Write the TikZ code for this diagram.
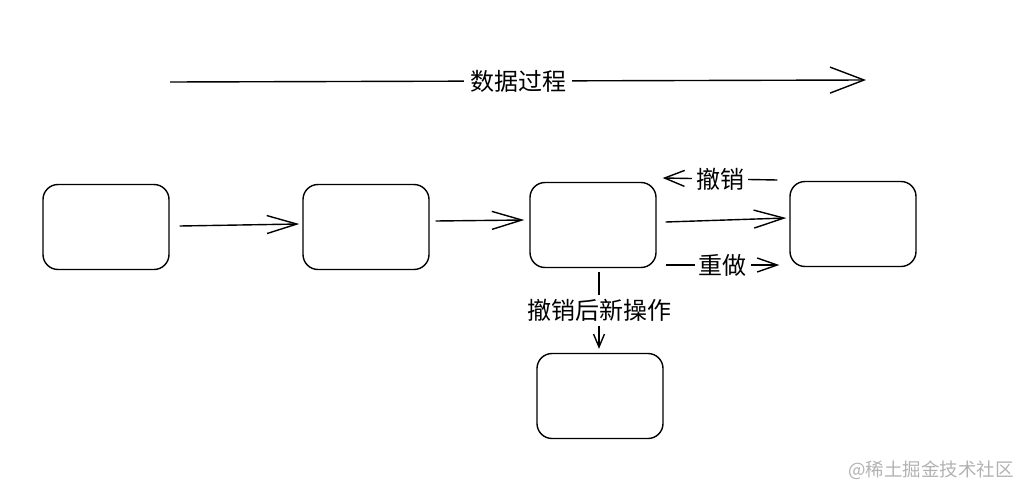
\documentclass[tikz,border=0pt]{standalone}
\usepackage{fontspec}
\setmainfont{Noto Sans CJK SC}
\usepackage{tikz}
\usetikzlibrary{calc,arrows.meta}

\begin{document}
\begin{tikzpicture}[x=1pt,y=-1pt,line width=1.4pt,
		state/.style={draw,rounded corners=15pt,minimum width=126pt,minimum height=85pt},
		lbl/.style={fill=white,inner sep=4pt,font=\fontsize{24}{26}\selectfont}]
			\useasboundingbox (0,0) rectangle (1032,500);
			
			% the flow of data
			\coordinate (S) at (170,82);
			\coordinate (E) at (866,80);
			\draw[-{Straight Barb[length=34pt,width=26pt]}] (S)--(E) node[lbl,pos=0.5,inner sep=6pt]{数据过程};
			
			\node[state] (b1) at (106,227) {};
			\node[state] (b2) at (366,227) {};
			\node[state] (b3) at (593,225) {};
			\node[state] (b4) at (853,224) {};
			\node[state] (b5) at (600,396) {};
			
			\draw[-{Straight Barb[length=30pt,width=18pt]}] ($(b1.east)+(10,-1)$)--($(b2.west)+(-3,-3)$);
			\draw[-{Straight Barb[length=30pt,width=18pt]}] ($(b2.east)+(6,-6)$)--($(b3.west)+(-5,-5)$);
			\draw[-{Straight Barb[length=30pt,width=18pt]}] ($(b3.east)+(9,-3)$)--($(b4.west)+(-3,-6)$);
			
			% undo and redo
			\coordinate (U1) at ($(b4.west)+(-12,-44)$);
			\coordinate (U2) at ($(b3.east)+(6,-47)$);
			\draw[-{Straight Barb[length=20pt,width=16pt]}] (U1)--(U2) node[lbl,midway]{撤销};
			\coordinate (R1) at ($(b3.east)+(9,40)$);
			\coordinate (R2) at ($(b4.west)+(-10,41)$);
			\draw[-{Straight Barb[length=20pt,width=14pt]}] (R1)--(R2) node[lbl,midway]{重做};
			
			% new operation after undo
			\draw[-{Straight Barb[length=13pt,width=11pt]}] ($(b3.south)+(6,4)$)--($(b5.north)+(-1,-4)$) node[lbl,midway]{撤销后新操作};
			
			\node[text=gray!60,font=\fontsize{18.5}{20}\selectfont] (wm) at (931,470) {@稀土掘金技术社区};
		\end{tikzpicture}
\end{document}
